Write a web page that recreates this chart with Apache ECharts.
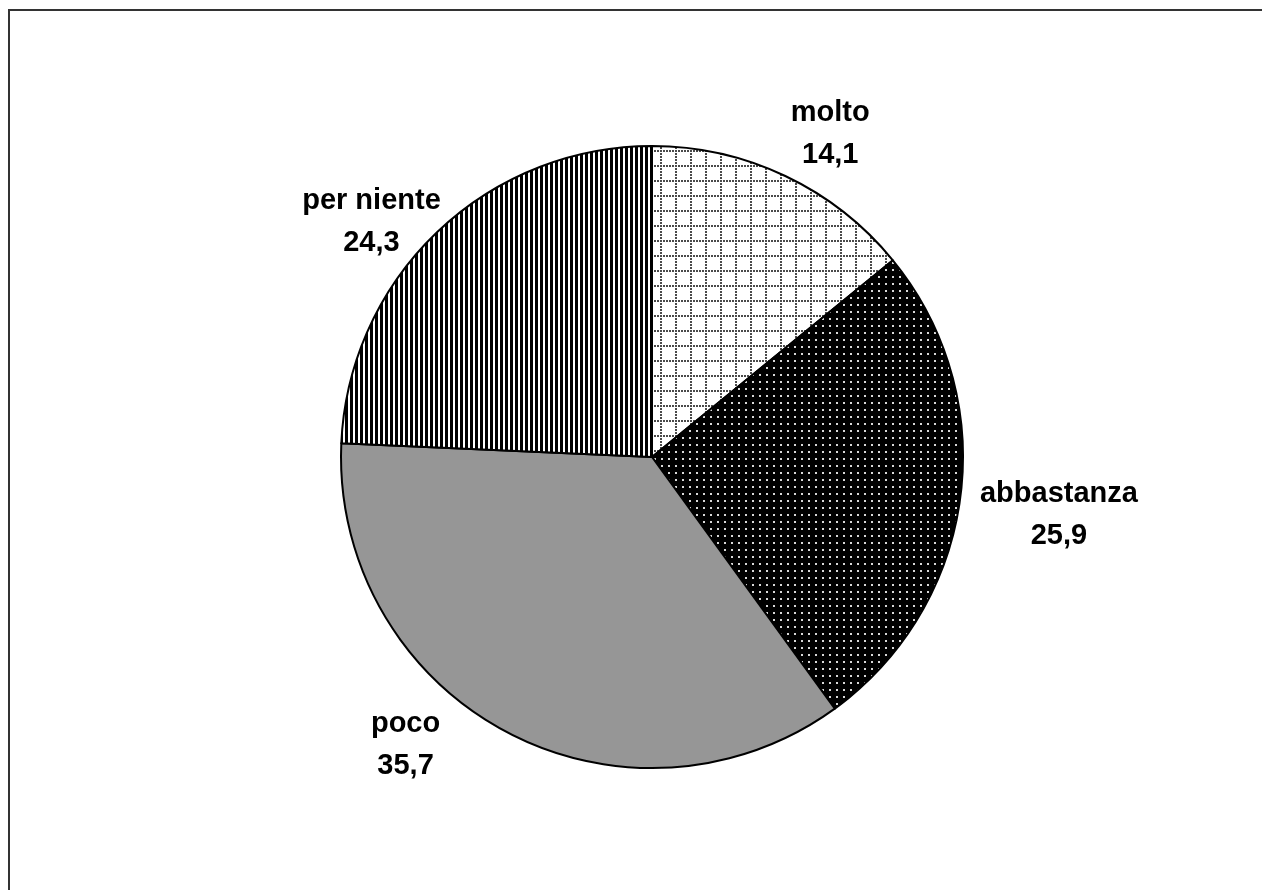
<!DOCTYPE html>
<html>
<head>
<meta charset="utf-8">
<script src="https://cdn.jsdelivr.net/npm/echarts@6/dist/echarts.min.js"></script>
<style>
  html, body { margin: 0; padding: 0; background: #ffffff; }
  #chart { width: 1262px; height: 890px; }
</style>
</head>
<body>
<div id="chart"></div>
<script>
// Survey answers and their percentage shares
const categories = ['molto', 'abbastanza', 'poco', 'per niente'];
const shares = [14.1, 25.9, 35.7, 24.3];

// Small canvas tiles used as repeating fill patterns
function makeTile(w, h, draw) {
  const c = document.createElement('canvas');
  c.width = w; c.height = h;
  draw(c.getContext('2d'));
  return c;
}
const gridTile = makeTile(15, 15, g => {
  g.fillStyle = '#ffffff'; g.fillRect(0, 0, 15, 15);
  g.fillStyle = '#4a4a4a';
  for (let i = 0; i < 15; i += 3) { g.fillRect(i, 0, 2, 2); g.fillRect(0, i, 2, 2); }
});
const dotTile = makeTile(7, 7, g => {
  g.fillStyle = '#000000'; g.fillRect(0, 0, 7, 7);
  g.fillStyle = '#d8d8d8'; g.fillRect(3, 3, 2, 2);
});
const stripeTile = makeTile(5, 5, g => {
  g.fillStyle = '#ffffff'; g.fillRect(0, 0, 5, 5);
  g.fillStyle = '#000000'; g.fillRect(0, 0, 3, 5);
});
const fills = [
  { image: gridTile, repeat: 'repeat' },
  { image: dotTile, repeat: 'repeat' },
  '#969696',
  { image: stripeTile, repeat: 'repeat' }
];

const CX = 652, CY = 457, R = 311;
// Label placement around the pie: angular turn (deg) from slice middle and distance beyond the rim
const labelPlacement = [
  { turn: 3.5, out: 58 },
  { turn: 0.7, out: 100 },
  { turn: 12.3, out: 68 },
  { turn: -6.3, out: 55 }
];
const total = shares.reduce((a, b) => a + b, 0);

const fmt = v => v.toFixed(1).replace('.', ',');

const chart = echarts.init(document.getElementById('chart'), null, { renderer: 'canvas' });
chart.setOption({
  animation: false,
  backgroundColor: '#ffffff',
  graphic: [{
    type: 'rect',
    shape: { x: 9, y: 10, width: 1400, height: 1000 },
    style: { fill: 'none', stroke: '#333333', lineWidth: 2 },
    silent: true
  }],
  series: [{
    type: 'pie',
    center: [CX, CY],
    radius: R,
    startAngle: 90,
    clockwise: true,
    avoidLabelOverlap: false,
    data: categories.map((name, i) => ({
      name,
      value: shares[i],
      itemStyle: { color: fills[i] }
    })),
    itemStyle: { borderColor: '#000000', borderWidth: 2 },
    label: {
      show: true,
      position: 'outside',
      formatter: p => p.name + '\n' + fmt(p.value),
      fontFamily: 'Liberation Sans, Arial, sans-serif',
      fontWeight: 'bold',
      fontSize: 29,
      lineHeight: 42,
      color: '#000000'
    },
    labelLine: { show: false },
    labelLayout: params => {
      const i = params.dataIndex;
      let before = 0;
      for (let k = 0; k < i; k++) before += shares[k];
      const theta = ((before + shares[i] / 2) / total * 360 + labelPlacement[i].turn) * Math.PI / 180;
      const d = R + labelPlacement[i].out;
      return {
        x: CX + Math.sin(theta) * d,
        y: CY - Math.cos(theta) * d,
        align: 'center',
        verticalAlign: 'middle'
      };
    },
    emphasis: { disabled: true }
  }]
});
</script>
</body>
</html>
